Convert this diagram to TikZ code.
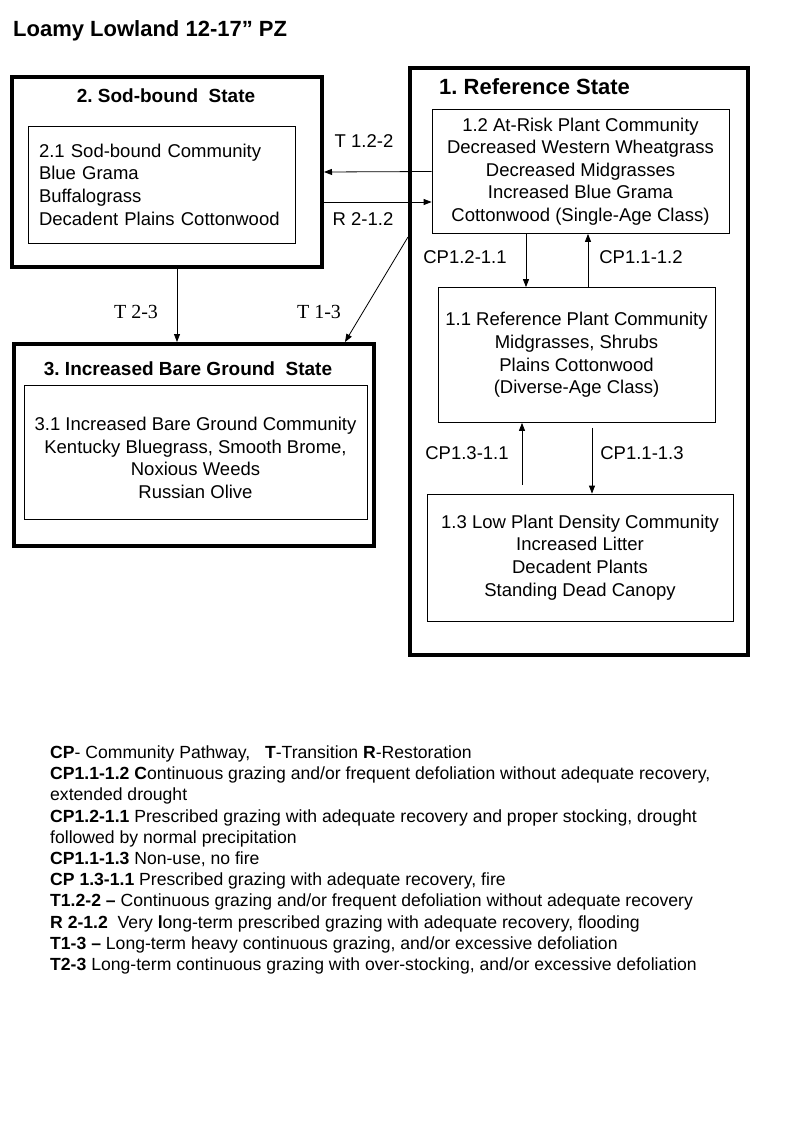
\documentclass[tikz,border=0pt]{standalone}
\usepackage{fontspec}
\setmainfont{Liberation Sans}
\newfontfamily\labelserif{Liberation Serif}
\usetikzlibrary{arrows.meta}
\frenchspacing
\tikzstyle{every node}+=[inner sep=0pt]
\tikzstyle{statebox}=[draw, line width=4pt]
\tikzstyle{statetitle}=[font=\bfseries\fontsize{19}{23}\selectfont]
\tikzstyle{commbox}=[draw, line width=0.8pt, align=center]
\tikzstyle{flow}=[line width=0.8pt, -{Triangle[length=8pt,width=6pt]}]
\tikzstyle{tlabel}=[font=\labelserif\fontsize{20}{24}\selectfont]
\tikzstyle{keytext}=[font=\fontsize{17.6}{21.2}\selectfont, align=left]

\begin{document}
\begin{tikzpicture}[x=1pt, y=-1pt, font=\fontsize{18.5}{22.6}\selectfont]
\tikzstyle{every node}+=[inner sep=0pt]
\fill [white] (0,0) rectangle (800,1143);
\useasboundingbox (0,0) rectangle (800,1143);

\node [anchor=base west, font=\bfseries\fontsize{22}{26}\selectfont] (title) at (13,36) {Loamy Lowland 12-17” PZ};

% states
\node [statebox, minimum width=310, minimum height=190] (s2) at (167,172) {};
\node [statebox, minimum width=338, minimum height=587] (s1) at (579,361.5) {};
\node [statebox, minimum width=360, minimum height=202] (s3) at (194,445) {};

\node [statetitle] (s2title) at (166,96) {2. Sod-bound~~State};
\node [statetitle, anchor=west, font=\bfseries\fontsize{22}{26}\selectfont] (s1title) at (439,87) {1. Reference State};
\node [statetitle] (s3title) at (188,369) {3. Increased Bare Ground~~State};

% communities
\node [commbox, align=left, text width=245, inner xsep=11pt, minimum height=117] (c21) at (161.5,184.5)
  {2.1 Sod-bound Community\\Blue Grama\\Buffalograss\\Decadent Plains Cottonwood};
\node [commbox, minimum width=297, minimum height=124] (c12) at (580.5,171.5)
  {1.2 At-Risk Plant Community\\Decreased Western Wheatgrass\\Decreased Midgrasses\\Increased Blue Grama\\Cottonwood (Single-Age Class)};
\node [commbox, minimum width=277, minimum height=135] (c11) at (576.5,355)
  {1.1 Reference Plant Community\\Midgrasses, Shrubs\\Plains Cottonwood\\(Diverse-Age Class)};
\node [commbox, minimum width=306, minimum height=127] (c13) at (580,557.5)
  {1.3 Low Plant Density Community\\Increased Litter\\Decadent Plants\\Standing Dead Canopy};
\node [commbox, minimum width=343, minimum height=134] (c31) at (195.5,452) {};
\node [align=center] (c31text) at (195.5,458)
  {3.1 Increased Bare Ground Community\\Kentucky Bluegrass, Smooth Brome,\\Noxious Weeds\\Russian Olive};

% transitions
\draw [flow] (c12.west) -- (s2.east |- 0,172);
\draw [flow] (s2.east |- 0,202) -- (c12.west |- 0,202);
\draw [flow] (s2.south -| 177,0) -- (s3.north -| 177,0);
\draw [flow] (s1.west |- 0,237) -- (s3.north -| 345,0);
\node (t122) at (364,141) {T 1.2-2};
\node (r212) at (363,219) {R 2-1.2};
\node [tlabel] (t23) at (136,312) {T 2-3};
\node [tlabel] (t13) at (319,312) {T 1-3};

% pathways
\draw [flow] (c12.south -| 526,0) -- (c11.north -| 526,0);
\draw [flow] (c11.north -| 588,0) -- (c12.south -| 588,0);
\draw [flow, shorten <=9pt] (c13.north -| 522,0) -- (c11.south -| 522,0);
\draw [flow, shorten <=5pt] (c11.south -| 592,0) -- (c13.north -| 592,0);
\node (cp1211) at (465,257) {CP1.2-1.1};
\node (cp1112) at (641,257) {CP1.1-1.2};
\node (cp1311) at (467,453) {CP1.3-1.1};
\node (cp1113) at (642,453) {CP1.1-1.3};

% key
\node [keytext, anchor=north west] (key) at (50,745.5) {%
\textbf{CP}- Community Pathway,~~ \textbf{T}-Transition \textbf{R}-Restoration\\
\textbf{CP1.1-1.2 C}ontinuous grazing and/or frequent defoliation without adequate recovery,\\
extended drought\\
\textbf{CP1.2-1.1} Prescribed grazing with adequate recovery and proper stocking, drought\\
followed by normal precipitation\\
\textbf{CP1.1-1.3} Non-use, no fire\\
\textbf{CP 1.3-1.1} Prescribed grazing with adequate recovery, fire\\
\textbf{T1.2-2 –} Continuous grazing and/or frequent defoliation without adequate recovery\\
\textbf{R 2-1.2}~ Very \textbf{l}ong-term prescribed grazing with adequate recovery, flooding\\
\textbf{T1-3 –} Long-term heavy continuous grazing, and/or excessive defoliation\\
\textbf{T2-3} Long-term continuous grazing with over-stocking, and/or excessive defoliation};
\end{tikzpicture}
\end{document}
